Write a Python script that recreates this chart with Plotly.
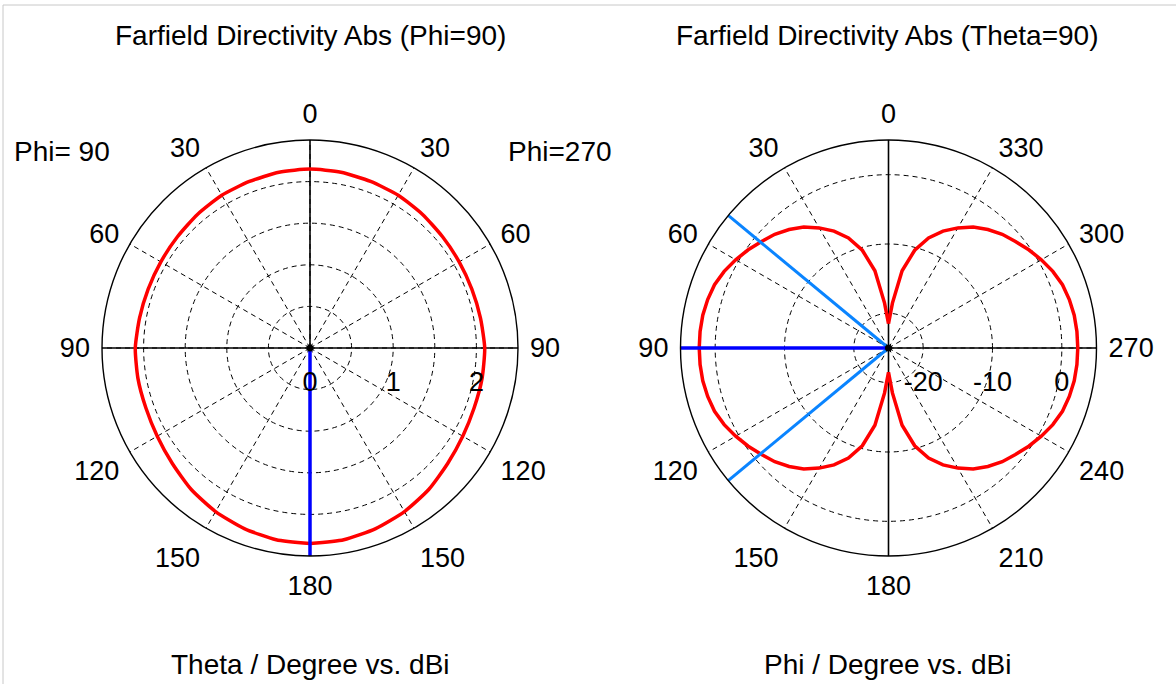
import plotly.graph_objects as go

W, H = 1176, 684
FONT = "Liberation Sans"

# ---- Phi = 90 cut: directivity (dBi) versus theta, for both half-planes ----
theta_cut = [0, 10, 20, 30, 40, 50, 60, 70, 80, 90, 100, 110, 120, 130, 140, 150, 160, 170, 180]
d_phi90 = [2.15, 2.145, 2.13, 2.12, 2.10, 2.08, 2.07, 2.07, 2.08, 2.10, 2.10, 2.10, 2.12,
           2.16, 2.22, 2.27, 2.31, 2.34, 2.35]
d_phi270 = [2.15, 2.145, 2.13, 2.12, 2.10, 2.08, 2.07, 2.07, 2.08, 2.10, 2.10, 2.10, 2.12,
            2.16, 2.22, 2.27, 2.31, 2.34, 2.35]
main_lobe_theta = 180

# ---- Theta = 90 cut: directivity (dBi) versus phi ----
phi_cut = [0, 5, 10, 15, 20, 25, 30, 35, 40, 45, 50, 55, 60, 65, 70, 75, 80, 85,
           90, 95, 100, 105, 110, 115, 120, 125, 130, 135, 140, 145, 150, 155, 160, 165, 170, 175,
           180, 185, 190, 195, 200, 205, 210, 215, 220, 225, 230, 235, 240, 245, 250, 255, 260, 265,
           270, 275, 280, 285, 290, 295, 300, 305, 310, 315, 320, 325, 330, 335, 340, 345, 350, 355, 360]
d_theta90 = [-21.5, -18.5, -13.7, -10.4, -8.1, -6.4, -5.0, -3.7, -2.7, -1.8, -1.1, -0.3, 0.45, 1.15, 1.7, 2.0, 2.2, 2.28,
             2.3, 2.28, 2.2, 2.0, 1.7, 1.15, 0.45, -0.3, -1.1, -1.8, -2.7, -3.7, -5.0, -6.4, -8.1, -10.4, -13.7, -18.5,
             -21.5, -18.5, -13.7, -10.4, -8.1, -6.4, -5.0, -3.7, -2.7, -1.8, -1.1, -0.3, 0.45, 1.15, 1.7, 2.0, 2.2, 2.28,
             2.3, 2.28, 2.2, 2.0, 1.7, 1.15, 0.45, -0.3, -1.1, -1.8, -2.7, -3.7, -5.0, -6.4, -8.1, -10.4, -13.7, -18.5,
             -21.5]
main_lobe_phi = 90
beamwidth_3db = 79.2

# axis settings
r1_range = [0, 2.5]
r1_ticks = [0, 0.5, 1, 1.5, 2]
r1_text = ["0", "", "1", "", "2"]
r2_range = [-25, 5]
r2_ticks = [-20, -10, 0]
r2_text = ["-20", "-10", "0"]
ang_ticks = list(range(0, 360, 30))
ang1_text = ["0", "30", "60", "90", "120", "150", "180", "150", "120", "90", "60", "30"]
ang2_text = [str(a) for a in ang_ticks]

RED = "#ff0000"
BLUE = "#0000ff"
LIGHTBLUE = "#0a84ff"

fig = go.Figure()


def cross(subplot, rmin, rmax):
    # solid vertical and horizontal diameters
    for a, b in ((0, 180), (90, 270)):
        fig.add_trace(go.Scatterpolar(r=[rmax, rmin, rmax], theta=[a, a, b], mode="lines",
                                      line=dict(color="black", width=1.6), subplot=subplot,
                                      hoverinfo="skip", showlegend=False))


cross("polar", r1_range[0], r1_range[1])
cross("polar2", r2_range[0], r2_range[1])

# left: pattern, phi=90 half on the left, phi=270 half on the right
th_left = theta_cut + [360 - t for t in reversed(theta_cut)]
r_left = d_phi90 + list(reversed(d_phi270))
fig.add_trace(go.Scatterpolar(r=r_left, theta=th_left, mode="lines",
                              line=dict(color=RED, width=3.5, shape="spline", smoothing=0.6),
                              subplot="polar", showlegend=False))
fig.add_trace(go.Scatterpolar(r=[r1_range[0], r1_range[1]], theta=[main_lobe_theta, main_lobe_theta],
                              mode="lines", line=dict(color=BLUE, width=3.5), subplot="polar",
                              showlegend=False))

# right: pattern and main-lobe / 3 dB markers
fig.add_trace(go.Scatterpolar(r=d_theta90, theta=phi_cut, mode="lines",
                              line=dict(color=RED, width=3.5), subplot="polar2", showlegend=False))
for a in (main_lobe_phi - beamwidth_3db / 2, main_lobe_phi + beamwidth_3db / 2):
    fig.add_trace(go.Scatterpolar(r=[r2_range[0], r2_range[1]], theta=[a, a], mode="lines",
                                  line=dict(color=LIGHTBLUE, width=3), subplot="polar2",
                                  showlegend=False))
fig.add_trace(go.Scatterpolar(r=[r2_range[0], r2_range[1]], theta=[main_lobe_phi, main_lobe_phi],
                              mode="lines", line=dict(color=BLUE, width=3.5), subplot="polar2",
                              showlegend=False))

# centre dots
fig.add_trace(go.Scatterpolar(r=[r1_range[0]], theta=[0], mode="markers",
                              marker=dict(color="black", size=7), subplot="polar", showlegend=False))
fig.add_trace(go.Scatterpolar(r=[r2_range[0]], theta=[0], mode="markers",
                              marker=dict(color="black", size=7), subplot="polar2", showlegend=False))

R = 208
cy = 348


def dom(cx):
    return dict(x=[(cx - R) / W, (cx + R) / W], y=[1 - (cy + R) / H, 1 - (cy - R) / H])


def polar_layout(cx, rrange, rticks, rtext, atext):
    return dict(
        domain=dom(cx),
        bgcolor="white",
        angularaxis=dict(rotation=90, direction="counterclockwise", tickmode="array",
                         tickvals=ang_ticks, ticktext=atext, showgrid=True, griddash="5px,4px",
                         gridcolor="black", gridwidth=1.2, showline=True, linecolor="black",
                         linewidth=1.4, ticks="outside", ticklen=6, tickcolor="rgba(0,0,0,0)",
                         tickfont=dict(family=FONT, size=27, color="black")),
        radialaxis=dict(range=rrange, tickmode="array", tickvals=rticks, ticktext=rtext,
                        showgrid=True, griddash="5px,4px", gridcolor="black", gridwidth=1.2,
                        showline=False, angle=0, side="clockwise", ticks="outside", ticklen=10,
                        tickcolor="rgba(0,0,0,0)",
                        tickfont=dict(family=FONT, size=27, color="black")),
    )


fig.update_layout(
    width=W, height=H, margin=dict(l=0, r=0, t=0, b=0),
    paper_bgcolor="white", plot_bgcolor="white", showlegend=False,
    polar=polar_layout(310, r1_range, r1_ticks, r1_text, ang1_text),
    polar2=polar_layout(888.5, r2_range, r2_ticks, r2_text, ang2_text),
)


def txt(x, y, s, anchor="center"):
    fig.add_annotation(x=x / W, y=1 - y / H, xref="paper", yref="paper", text=s, showarrow=False,
                       xanchor=anchor, yanchor="middle",
                       font=dict(family=FONT, size=28, color="black"))


txt(310, 35, "Farfield Directivity Abs (Phi=90)")
txt(887, 35, "Farfield Directivity Abs (Theta=90)")
txt(310, 664, "Theta / Degree vs. dBi")
txt(887, 664, "Phi / Degree vs. dBi")
txt(12, 151, "Phi= 90", "left")
txt(506, 151, "Phi=270", "left")

# frame edges along the top and left
fig.add_shape(type="line", xref="paper", yref="paper", x0=3 / W, x1=1, y0=1 - 5 / H, y1=1 - 5 / H,
              line=dict(color="#c8c8c8", width=1))
fig.add_shape(type="line", xref="paper", yref="paper", x0=3 / W, x1=3 / W, y0=0, y1=1 - 5 / H,
              line=dict(color="#c8c8c8", width=1))

fig.write_html("out.html")
